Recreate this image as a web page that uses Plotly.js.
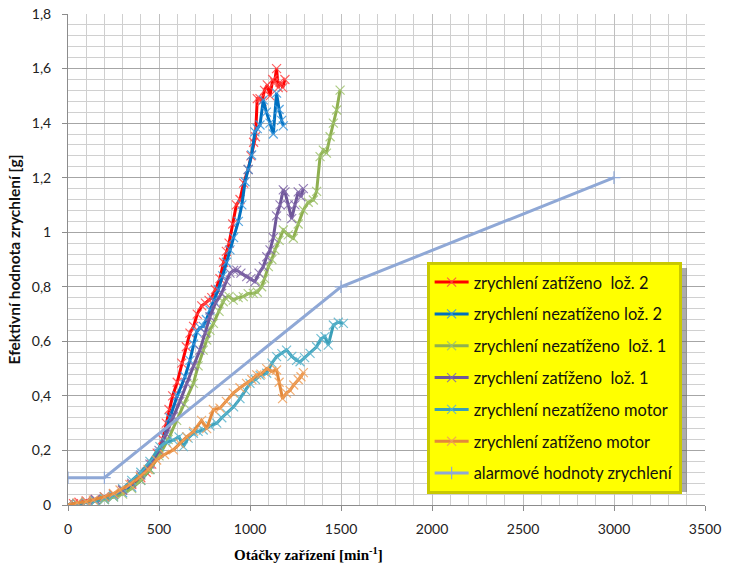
<!DOCTYPE html>
<html>
<head>
<meta charset="utf-8">
<script src="https://cdn.plot.ly/plotly-3.0.1.min.js"></script>
<style>
html,body{margin:0;padding:0;background:#fff}
#chart{width:734px;height:571px}
#chart .annotation-text{font-family:"Liberation Serif","Times New Roman",serif !important;}
</style>
</head>
<body>
<div id="chart"></div>
<script>
// ---- data ----
const seriesNames = [
  "zrychlení zatíženo  lož. 2",
  "zrychlení nezatíženo lož. 2",
  "zrychlení nezatíženo  lož. 1",
  "zrychlení zatíženo  lož. 1",
  "zrychlení nezatíženo motor",
  "zrychlení zatíženo motor",
  "alarmové hodnoty zrychlení"
];

const redX = [0,30,60,100,150,200,250,300,350,400,430,460,490,520,540,555,575,600,625,650,670,690,710,735,755,775,790,810,835,855,870,885,905,925,945,965,990,1005,1020,1030,1040,1055,1065,1080,1095,1110,1125,1135,1146,1155,1165,1180,1192];
const redY = [0,0.005,0.01,0.015,0.02,0.03,0.04,0.055,0.075,0.1,0.12,0.15,0.19,0.24,0.3,0.35,0.4,0.45,0.52,0.58,0.63,0.655,0.7,0.73,0.74,0.75,0.76,0.79,0.83,0.89,0.93,0.96,1.03,1.1,1.12,1.18,1.23,1.28,1.33,1.35,1.49,1.49,1.48,1.52,1.54,1.5,1.56,1.55,1.6,1.53,1.55,1.53,1.56];

const blueX = [0,50,100,150,200,250,300,350,400,450,500,530,560,600,643,670,690,707,725,743,760,780,800,826,850,870,890,910,936,955,973,990,1009,1027,1040,1055,1073,1090,1110,1128,1146,1160,1174,1183];
const blueY = [0,0.005,0.01,0.015,0.02,0.03,0.045,0.065,0.09,0.13,0.19,0.25,0.32,0.4,0.47,0.53,0.59,0.635,0.65,0.655,0.68,0.715,0.75,0.79,0.84,0.89,0.935,0.98,1.04,1.1,1.185,1.23,1.283,1.368,1.38,1.393,1.485,1.44,1.4,1.36,1.51,1.45,1.41,1.39];

const greenX = [0,50,100,150,200,250,300,350,400,450,500,550,597,640,689,715,743,762,780,799,830,853,863,885,908,935,963,990,1018,1040,1064,1080,1101,1120,1137,1160,1183,1210,1238,1265,1293,1320,1348,1366,1385,1403,1420,1440,1458,1476,1495];
const greenY = [0,0.005,0.01,0.015,0.02,0.03,0.04,0.06,0.09,0.13,0.18,0.24,0.31,0.37,0.446,0.51,0.568,0.605,0.64,0.666,0.71,0.745,0.76,0.765,0.751,0.76,0.764,0.775,0.776,0.78,0.8,0.83,0.874,0.9,0.935,0.97,1.008,0.99,0.978,1.03,1.081,1.11,1.118,1.15,1.277,1.301,1.29,1.35,1.4,1.448,1.521];

const purpleX = [0,50,100,150,200,250,300,350,400,450,500,540,579,615,652,690,725,755,780,810,844,870,890,910,927,950,982,1005,1027,1050,1073,1092,1110,1128,1146,1165,1183,1192,1210,1229,1247,1265,1280,1293];
const purpleY = [0,0.005,0.01,0.02,0.03,0.04,0.055,0.08,0.11,0.15,0.2,0.26,0.324,0.38,0.446,0.51,0.568,0.63,0.69,0.74,0.776,0.82,0.85,0.86,0.861,0.85,0.837,0.83,0.819,0.85,0.874,0.91,0.935,0.98,1.06,1.1,1.155,1.148,1.1,1.05,1.1,1.148,1.13,1.16];

const cyanX = [0,50,100,150,200,250,300,350,400,450,505,540,579,610,634,660,689,715,743,780,817,845,872,910,945,975,1000,1030,1055,1092,1120,1146,1175,1201,1230,1256,1275,1300,1330,1366,1390,1412,1430,1458,1485,1513];
const cyanY = [0,0.005,0.01,0.015,0.025,0.035,0.06,0.09,0.12,0.16,0.214,0.23,0.238,0.25,0.214,0.245,0.263,0.27,0.275,0.29,0.3,0.32,0.336,0.36,0.39,0.42,0.446,0.46,0.475,0.483,0.52,0.544,0.555,0.568,0.545,0.53,0.525,0.54,0.556,0.58,0.61,0.617,0.586,0.66,0.67,0.666];

const orangeX = [0,50,100,139,200,250,286,340,396,440,487,530,579,615,652,690,734,762,799,835,870,908,945,981,1010,1037,1060,1092,1120,1146,1160,1179,1200,1220,1240,1265,1280,1293];
const orangeY = [0,0.008,0.012,0.018,0.03,0.042,0.055,0.075,0.104,0.13,0.165,0.185,0.202,0.225,0.25,0.27,0.31,0.28,0.35,0.355,0.38,0.41,0.43,0.446,0.46,0.477,0.48,0.5,0.49,0.495,0.45,0.39,0.41,0.42,0.44,0.46,0.47,0.485];

const alarmX = [0,200,1500,3000];
const alarmY = [0.1,0.1,0.8,1.2];

const xTitle = "Otáčky zařízení [min<sup>-1</sup>]";
const yTitle = "Efektivní hodnota zrychlení [g]";

// ---- styles ----
const lineColors = ["#ff0000","#0070c0","#8fb050","#6f5799","#3a9fb8","#e3893b","#8fa8d6"];
const markColors = ["rgba(255,70,70,0.85)","rgba(60,150,220,0.85)","rgba(160,195,110,0.85)","rgba(130,105,170,0.85)","rgba(90,180,205,0.85)","rgba(240,160,90,0.85)","rgba(143,168,214,1)"];
const xs = [redX,blueX,greenX,purpleX,cyanX,orangeX,alarmX];
const ys = [redY,blueY,greenY,purpleY,cyanY,orangeY,alarmY];

const traces = xs.map((x,i)=>({
  type:"scatter", mode:"lines+markers", x:x, y:ys[i], name:seriesNames[i],
  legendgroup:"g"+i,
  line:{color:lineColors[i], width:3},
  marker: i<6 ? {symbol:"x-thin", size:9, color:markColors[i], line:{width:1.2, color:markColors[i]}}
              : {symbol:"cross-thin", size:9, color:markColors[i], line:{width:1.2, color:markColors[i]}}
}));

const gridFont = {family:"Lato, 'Open Sans', sans-serif", size:14, color:"#222"};

const layout = {
  width:734, height:571,
  margin:{l:68, r:29, t:14, b:66},
  paper_bgcolor:"#ffffff", plot_bgcolor:"#ffffff",
  separators:", ",
  showlegend:true,
  xaxis:{
    range:[0,3500], dtick:500, tick0:0, showline:true, linecolor:"#8c8c8c", linewidth:1,
    ticks:"outside", ticklen:5, tickcolor:"#8c8c8c", ticklabelstandoff:6,
    showgrid:true, gridcolor:"#bfbfbf", gridwidth:1, zeroline:false,
    minor:{dtick:100, showgrid:true, gridcolor:"#cfcfcf", gridwidth:1},
    tickfont:gridFont, fixedrange:true
  },
  yaxis:{
    range:[0,1.8], dtick:0.2, tick0:0, showline:true, linecolor:"#8c8c8c", linewidth:1,
    ticks:"outside", ticklen:5, tickcolor:"#8c8c8c", ticklabelstandoff:8,
    showgrid:true, gridcolor:"#a6a6a6", gridwidth:1, zeroline:false,
    minor:{dtick:0.04, showgrid:true, gridcolor:"#d0d0d0", gridwidth:1},
    tickfont:gridFont, fixedrange:true,
    title:{text:yTitle, font:{family:"Lato, 'Open Sans', sans-serif", size:15.5, color:"#111", weight:"bold"}, standoff:7}
  },
  legend:{
    x:0.563, y:0.495, xanchor:"left", yanchor:"top",
    bgcolor:"#ffff00", bordercolor:"#c9c900", borderwidth:3,
    font:{family:"Lato, 'Open Sans', sans-serif", size:16.4, color:"#111"},
    tracegroupgap:7.5, itemwidth:34
  },
  annotations:[{
    xref:"paper", yref:"paper", x:(308-68)/637, y:-0.1, xanchor:"center", yanchor:"middle",
    text:xTitle, showarrow:false,
    font:{family:"Liberation Serif", size:15, color:"#000", weight:"bold"}
  }],
  shapes:[{
    type:"rect", xref:"paper", yref:"paper", layer:"above",
    x0:(432-68)/637, x1:(687-68)/637, y0:(505-492)/491, y1:(505-268)/491,
    fillcolor:"rgba(90,90,90,0.5)", line:{width:0}
  }]
};

Plotly.newPlot("chart", traces, layout, {displayModeBar:false, staticPlot:true});
</script>
</body>
</html>
